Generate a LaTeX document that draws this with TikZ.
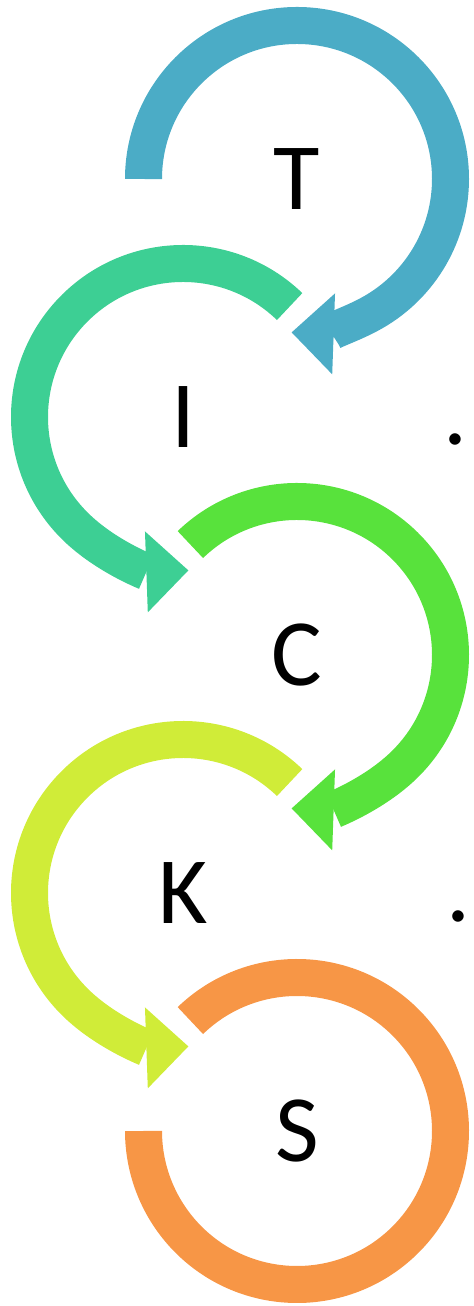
\documentclass[tikz,border=0pt]{standalone}
\usepackage{fontspec}
\setmainfont{Carlito}
\usetikzlibrary{arrows.meta}

\definecolor{ringT}{HTML}{4BACC6}
\definecolor{ringI}{HTML}{3DCF94}
\definecolor{ringC}{HTML}{58E23C}
\definecolor{ringK}{HTML}{D0EC38}
\definecolor{ringS}{HTML}{F79646}

\begin{document}
\begin{tikzpicture}[
      x=0.5pt,
      y=0.5pt,
      letter/.style={
        font=\fontsize{47.5}{50}\selectfont,
        inner sep=0pt
      },
      ringline/.style={line width=18.5pt},
      ringhead/.style={-{Triangle[length=21pt,width=40.5pt,line width=0pt]}}
    ]

    \useasboundingbox (0,0) rectangle (473,1306);

    % Centres of the five rings, top to bottom (right, left, right, ...)
    \coordinate (cT) at (297,1127);
    \coordinate (cI) at (183,889);
    \coordinate (cC) at (297,651);
    \coordinate (cK) at (183,413);
    \coordinate (cS) at (297,175);

    % Letters
    \node[letter] (T) at (cT) {T};
    \node[letter] (I) at (cI) {I};
    \node[letter] (C) at (cC) {C};
    \node[letter] (K) at (cK) {K};
    \node[letter] (S) at (cS) {S};

    % Rings: right ones turn clockwise, left ones anticlockwise
    \draw[ringline, ringT, ringhead] ([shift={(180:153.5)}]cT)
      arc[start angle=180, end angle=-92, radius=153.5];
    \draw[ringline, ringI, ringhead] ([shift={(46:153.5)}]cI)
      arc[start angle=46, end angle=272, radius=153.5];
    \draw[ringline, ringC, ringhead] ([shift={(134:153.5)}]cC)
      arc[start angle=134, end angle=-92, radius=153.5];
    \draw[ringline, ringK, ringhead] ([shift={(46:153.5)}]cK)
      arc[start angle=46, end angle=272, radius=153.5];
    \draw[ringline, ringS] ([shift={(134:153.5)}]cS)
      arc[start angle=134, end angle=-180, radius=153.5];

    % Stray full stops on the right
    \node[letter, anchor=base] (dotI) at (455,861) {.};
    \node[letter, anchor=base] (dotK) at (458,384) {.};

\end{tikzpicture}
\end{document}
